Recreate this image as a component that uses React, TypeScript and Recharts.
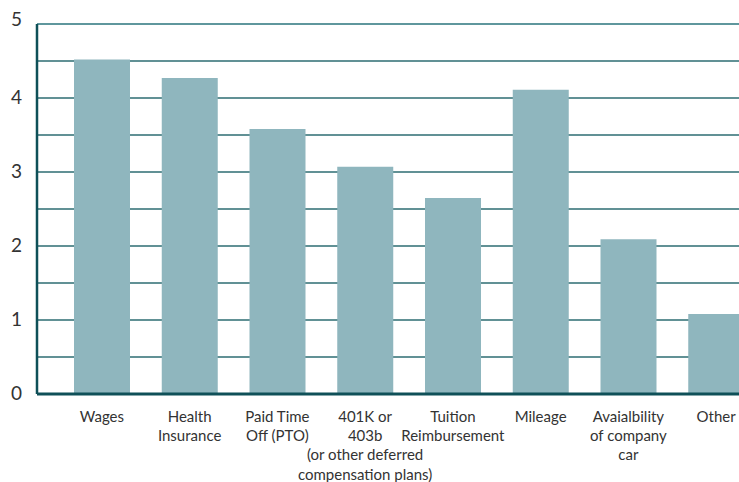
import React from "react";
import { BarChart, Bar, XAxis, YAxis, CartesianGrid, ReferenceLine } from "recharts";

const categories: string[] = [
  "Wages",
  "Health\nInsurance",
  "Paid Time\nOff (PTO)",
  "401K or\n403b\n(or other deferred\ncompensation plans)",
  "Tuition\nReimbursement",
  "Mileage",
  "Avaialbility\nof company\ncar",
  "Other",
];
const values: number[] = [4.52, 4.27, 3.58, 3.07, 2.65, 4.11, 2.09, 1.08];
const yTicks: number[] = [0, 0.5, 1, 1.5, 2, 2.5, 3, 3.5, 4, 4.5, 5];

const data = categories.map((c, i) => ({ name: c, value: values[i] }));

const FONT = "Lato, 'Open Sans', sans-serif";
const TEXT = "#333333";
const TEAL = "#0f5058";
const GRID = "#2c6c72";
const BAR = "#8fb6be";

const XTick = (props: any) => {
  const { x, y, payload } = props;
  const lines = String(payload.value).split("\n");
  return (
    <text x={x} y={y} textAnchor="middle" fill={TEXT} fontFamily={FONT} fontSize={15}>
      {lines.map((l: string, i: number) => (
        <tspan key={i} x={x} dy={i === 0 ? 20 : 19.2}>
          {l}
        </tspan>
      ))}
    </text>
  );
};

const YTick = (props: any) => {
  const { y, payload } = props;
  const v = payload.value;
  if (!Number.isInteger(v)) return <g />;
  return (
    <text x={22} y={y} dy={v === 5 ? 2 : 6} textAnchor="end" fill={TEXT} fontFamily={FONT} fontSize={19}>
      {v}
    </text>
  );
};

export default function App() {
  return (
    <div style={{ position: "absolute", left: 0, top: 0, width: 739, height: 482, overflow: "hidden" }}>
      <BarChart
        width={780}
        height={482}
        data={data}
        margin={{ top: 24, right: 20, bottom: 0, left: 0 }}
        barSize={56}
      >
        <CartesianGrid vertical={false} stroke={GRID} strokeWidth={1.5} />
        <ReferenceLine y={5} stroke="#5f9aa0" strokeWidth={1.5} />
        <XAxis
          dataKey="name"
          height={88}
          interval={0}
          tick={<XTick />}
          tickLine={false}
          axisLine={{ stroke: TEAL, strokeWidth: 3 }}
          padding={{ left: 21, right: 0 }}
        />
        <YAxis
          domain={[0, 5]}
          ticks={yTicks}
          width={37}
          tick={<YTick />}
          tickLine={false}
          axisLine={{ stroke: TEAL, strokeWidth: 2.5 }}
          interval={0}
        />
        <Bar dataKey="value" fill={BAR} isAnimationActive={false} />
      </BarChart>
    </div>
  );
}
